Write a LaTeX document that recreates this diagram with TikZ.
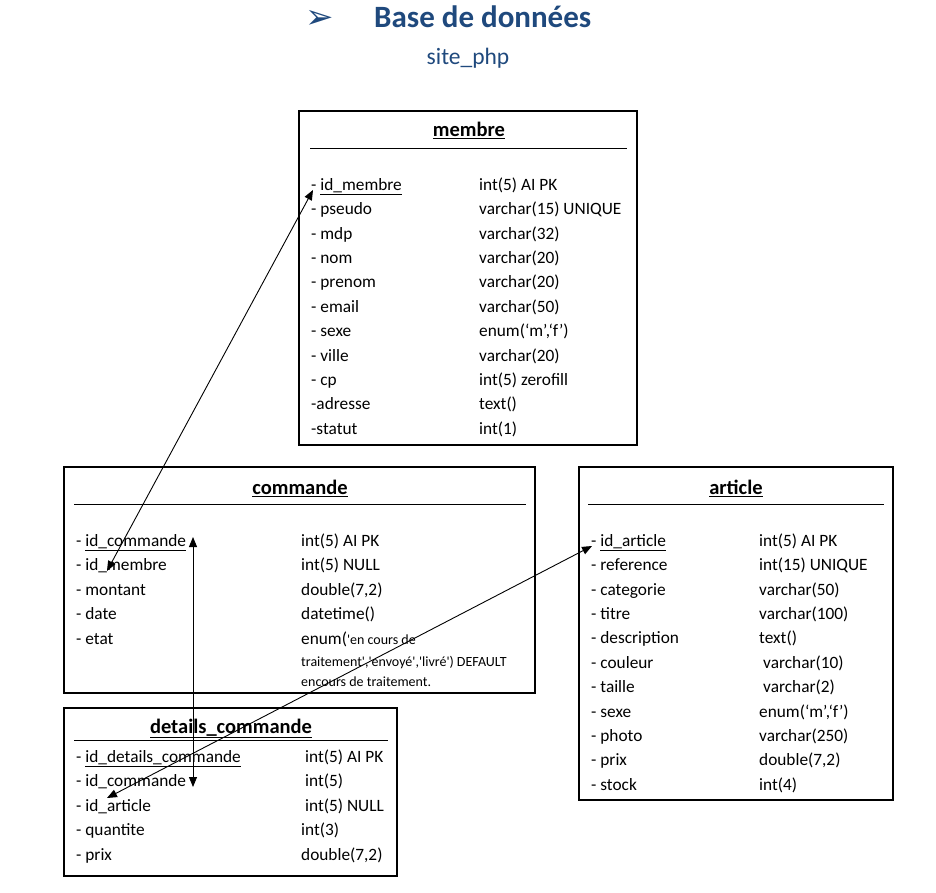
\documentclass[tikz,border=0pt]{standalone}
\usepackage{fontspec}
\setmainfont{Carlito}
\newfontfamily\dejavu{DejaVu Sans}
\usetikzlibrary{arrows.meta}
\definecolor{titleblue}{RGB}{31,73,125}
\tikzset{
  tbl/.style={draw=black, line width=1.2pt},
  hline/.style={draw=black, line width=0.9pt},
  row/.style={anchor=mid west, inner sep=0pt, yshift=-4pt, font=\fontsize{17.3}{20}\selectfont},
  small/.style={anchor=mid west, inner sep=0pt, yshift=-4pt, font=\fontsize{14}{17}\selectfont},
  head/.style={anchor=mid, inner sep=0pt, yshift=-4pt, font=\fontsize{20.5}{23}\selectfont\bfseries},
  link/.style={line width=0.9pt, {Triangle[length=10pt,width=8pt]}-{Triangle[length=10pt,width=8pt]}}
}
\newcommand{\ul}[1]{\underline{#1}}
\newcommand{\sq}{\textquotesingle}
\begin{document}
\begin{tikzpicture}[x=1pt,y=-1pt]
\useasboundingbox (0,0) rectangle (936,893);
% title
\node[inner sep=0pt, text=titleblue, font=\dejavu\fontsize{34}{36}\selectfont] (arrowglyph) at (320,19) {➢};
\node[inner sep=0pt, text=titleblue, font=\fontsize{31}{34}\selectfont\bfseries, anchor=mid west] (title) at (374,25) {Base de données};
\node[inner sep=0pt, text=titleblue, font=\fontsize{23.5}{26}\selectfont] (subtitle) at (468,58) {site\_php};

% ---------- membre ----------
\draw[tbl] (299,111) rectangle (637,445);
\node[head] (mhead) at (469,130) {\ul{membre}};
\draw[hline] (310,148) -- (627,148);
\foreach \i/\a/\b in {0/{- \ul{id\_membre}}/{int(5) AI PK},
  1/{- pseudo}/{varchar(15) UNIQUE},
  2/{- mdp}/{varchar(32)},
  3/{- nom}/{varchar(20)},
  4/{- prenom}/{varchar(20)},
  5/{- email}/{varchar(50)},
  6/{- sexe}/{enum(`m',`f')},
  7/{- ville}/{varchar(20)},
  8/{- cp}/{int(5) zerofill},
  9/{-adresse}/{text()},
  10/{-statut}/{int(1)}}{
  \node[row] (m\i) at (311,184+24.4*\i) {\a};
  \node[row] (mt\i) at (479,184+24.4*\i) {\b};
}

% ---------- commande ----------
\draw[tbl] (64,467) rectangle (535,693);
\node[head] (chead) at (300,488) {\ul{commande}};
\draw[hline] (74,504) -- (526,504);
\foreach \i/\a/\b in {0/{- \ul{id\_commande}}/{int(5) AI PK},
  1/{- id\_membre}/{int(5) NULL},
  2/{- montant}/{double(7,2)},
  3/{- date}/{datetime()}}{
  \node[row] (c\i) at (76,540+24.5*\i) {\a};
  \node[row] (ct\i) at (301,540+24.5*\i) {\b};
}
\node[row] (c4) at (76,638) {- etat};
\node[row] (ct4) at (301,638) {enum(\fontsize{14}{17}\selectfont\sq en cours de};
\node[small] (ct5) at (301,660) {traitement\sq,\sq envoyé\sq,\sq livré\sq) DEFAULT};
\node[small] (ct6) at (301,680) {encours de traitement.};

% ---------- article ----------
\draw[tbl] (579,467) rectangle (893,800);
\node[head] (ahead) at (736,488) {\ul{article}};
\draw[hline] (588,504) -- (884,504);
\foreach \i/\a/\b/\x in {0/{- \ul{id\_article}}/{int(5) AI PK}/759,
  1/{- reference}/{int(15) UNIQUE}/759,
  2/{- categorie}/{varchar(50)}/759,
  3/{- titre}/{varchar(100)}/759,
  4/{- description}/{text()}/759,
  5/{- couleur}/{varchar(10)}/763,
  6/{- taille}/{varchar(2)}/763,
  7/{- sexe}/{enum(`m',`f')}/759,
  8/{- photo}/{varchar(250)}/759,
  9/{- prix}/{double(7,2)}/759,
  10/{- stock}/{int(4)}/759}{
  \node[row] (a\i) at (591,540+24.4*\i) {\a};
  \node[row] (at\i) at (\x,540+24.4*\i) {\b};
}

% ---------- details_commande ----------
\draw[tbl] (64,708) rectangle (397,876);
\node[head] (dhead) at (231,727) {\ul{details\_commande}};
\draw[hline] (74,740) -- (388,740);
\foreach \i/\a/\b/\x in {0/{- \ul{id\_details\_commande}}/{int(5) AI PK}/305,
  1/{- id\_commande}/{int(5)}/305,
  2/{- id\_article}/{int(5) NULL}/305,
  3/{- quantite}/{int(3)}/301,
  4/{- prix}/{double(7,2)}/301}{
  \node[row] (d\i) at (76,756+24.5*\i) {\a};
  \node[row] (dt\i) at (\x,756+24.5*\i) {\b};
}

% ---------- links ----------
\coordinate (pm) at (313,190);
\coordinate (pcm) at (107,571);
\coordinate (pcc) at (193,537);
\coordinate (pdc) at (193,787);
\coordinate (pa) at (592,546);
\coordinate (pda) at (107,798);
\draw[link] (pm) -- (pcm);
\draw[link] (pcc) -- (pdc);
\draw[link] (pa) -- (pda);
\end{tikzpicture}
\end{document}
